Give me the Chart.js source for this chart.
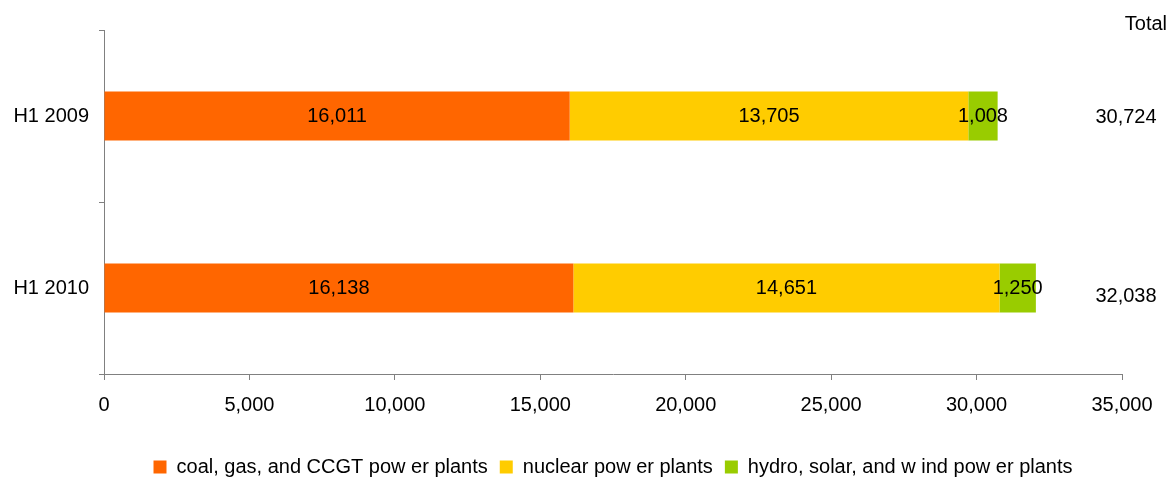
<!DOCTYPE html>
<html>
<head>
<meta charset="utf-8">
<title>Power generation H1 2009 vs H1 2010</title>
<script src="https://cdn.jsdelivr.net/npm/chart.js@4/dist/chart.umd.min.js"></script>
<style>
  html, body { margin: 0; padding: 0; background: #ffffff; }
  #wrap { width: 1168px; height: 477px; position: relative; }
</style>
</head>
<body>
<div id="wrap"><canvas id="chart"></canvas></div>
<script>
// Periods shown as rows
const categories = ['H1 2009', 'H1 2010'];

// Generation by source
const coalGasCcgt = [16011, 16138];
const nuclear = [13705, 14651];
const hydroSolarWind = [1008, 1250];

// Reported totals per period
const totals = [30724, 32038];

// Series names
const seriesNames = [
  'coal, gas, and CCGT pow er plants',
  'nuclear pow er plants',
  'hydro, solar, and w ind pow er plants'
];

// Value axis
const axisMin = 0;
const axisMax = 35000;
const axisStep = 5000;

const FONT = '"Liberation Sans", Arial, Helvetica, sans-serif';
const fmt = v => Number(v).toLocaleString('en-US');

// Writes each segment's value in the middle of the segment
const segmentLabels = {
  id: 'segmentLabels',
  afterDatasetsDraw(chart) {
    const ctx = chart.ctx;
    ctx.save();
    ctx.font = '20px ' + FONT;
    ctx.fillStyle = '#000000';
    ctx.textAlign = 'center';
    ctx.textBaseline = 'middle';
    chart.data.datasets.forEach((ds, di) => {
      const meta = chart.getDatasetMeta(di);
      meta.data.forEach((bar, i) => {
        const x = (bar.x + bar.base) / 2;
        ctx.fillText(fmt(ds.data[i]), x, bar.y);
      });
    });
    ctx.restore();
  }
};

// Totals column on the right with its heading
const totalColumn = {
  id: 'totalColumn',
  afterDraw(chart) {
    const ctx = chart.ctx;
    const area = chart.chartArea;
    const last = chart.getDatasetMeta(chart.data.datasets.length - 1);
    ctx.save();
    ctx.font = '20px ' + FONT;
    ctx.fillStyle = '#000000';
    ctx.textBaseline = 'middle';
    ctx.textAlign = 'right';
    ctx.fillText('Total', chart.width - 1, 24);
    ctx.textAlign = 'center';
    last.data.forEach((bar, i) => {
      ctx.fillText(fmt(totals[i]), area.right + 4, bar.y + (i === 0 ? 1 : 8));
    });
    ctx.restore();
  }
};

const AXIS_GREY = '#808080';

new Chart(document.getElementById('chart'), {
  type: 'bar',
  data: {
    labels: categories,
    datasets: [
      { label: seriesNames[0], data: coalGasCcgt, backgroundColor: '#FF6600', borderWidth: 0 },
      { label: seriesNames[1], data: nuclear, backgroundColor: '#FFCC00', borderWidth: 0 },
      { label: seriesNames[2], data: hydroSolarWind, backgroundColor: '#99CC00', borderWidth: 0 }
    ]
  },
  options: {
    indexAxis: 'y',
    responsive: true,
    maintainAspectRatio: false,
    animation: false,
    datasets: {
      bar: { categoryPercentage: 1.0, barPercentage: 0.285 }
    },
    layout: {
      padding: { left: 0, right: 46, top: 30, bottom: -10 }
    },
    scales: {
      x: {
        stacked: true,
        min: axisMin,
        max: axisMax,
        ticks: {
          stepSize: axisStep,
          color: '#000000',
          font: { family: FONT, size: 20 },
          padding: 13,
          callback: v => fmt(v)
        },
        grid: {
          drawOnChartArea: false,
          drawTicks: true,
          tickLength: 6,
          color: AXIS_GREY
        },
        border: { display: true, color: AXIS_GREY, width: 1 },
        afterFit(scale) { scale.height = 71; }
      },
      y: {
        stacked: true,
        ticks: {
          color: '#000000',
          font: { family: FONT, size: 20 },
          padding: 10
        },
        grid: {
          drawOnChartArea: false,
          drawTicks: true,
          tickLength: 5,
          offset: true,
          color: AXIS_GREY
        },
        border: { display: true, color: AXIS_GREY, width: 1 },
        afterFit(scale) { scale.width = 104; }
      }
    },
    plugins: {
      legend: {
        position: 'bottom',
        fullSize: false,
        labels: {
          boxWidth: 13,
          boxHeight: 13,
          padding: 12,
          color: '#000000',
          font: { family: FONT, size: 20 }
        }
      },
      tooltip: { enabled: false }
    }
  },
  plugins: [segmentLabels, totalColumn]
});
</script>
</body>
</html>
